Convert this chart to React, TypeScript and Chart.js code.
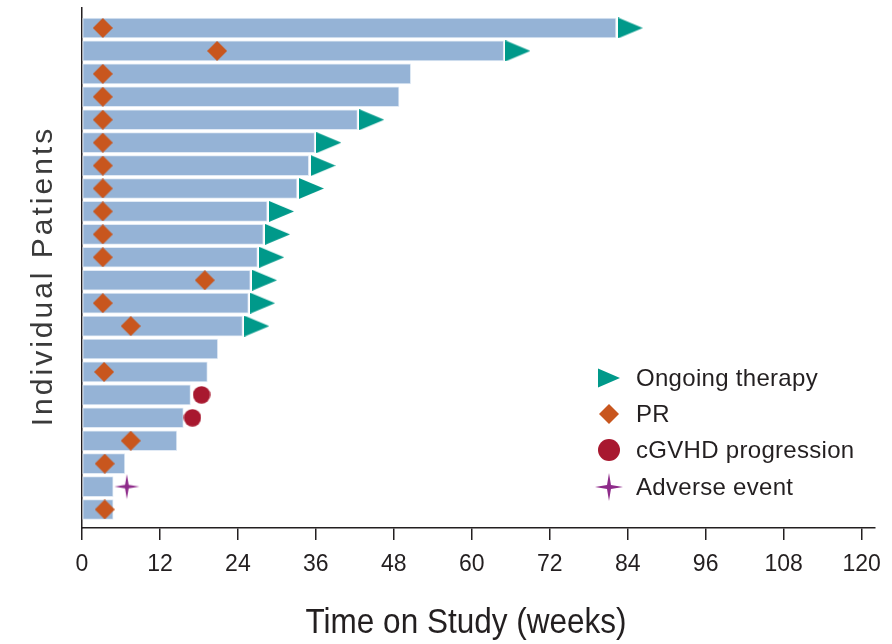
import React, { useEffect, useRef } from 'react';
import { Chart, registerables } from 'chart.js';

Chart.register(...registerables);

// ---- Data (weeks on study, patient rows numbered from top) ----
const patientRows = [1, 2, 3, 4, 5, 6, 7, 8, 9, 10, 11, 12, 13, 14, 15, 16, 17, 18, 19, 20, 21, 22];
const durations = [82.2, 64.9, 50.6, 48.8, 42.4, 35.8, 34.9, 33.1, 28.5, 27.9, 27.0, 25.9, 25.6, 24.7, 20.9, 19.3, 16.7, 15.6, 14.6, 6.6, 4.8, 4.8];

const ongoingRows = [1, 2, 5, 6, 7, 8, 9, 10, 11, 12, 13, 14];
const ongoingWeeks = [84.4, 67.1, 44.6, 38.0, 37.1, 35.3, 30.7, 30.1, 29.2, 28.1, 27.8, 26.9];

const prRows = [1, 2, 3, 4, 5, 6, 7, 8, 9, 10, 11, 12, 13, 14, 16, 19, 20, 22];
const prWeeks = [3.2, 20.8, 3.2, 3.2, 3.2, 3.2, 3.2, 3.2, 3.2, 3.2, 3.2, 18.9, 3.2, 7.5, 3.4, 7.5, 3.5, 3.5];

const progressionRows = [17, 18];
const progressionWeeks = [18.4, 17.0];

const adverseRows = [21];
const adverseWeeks = [6.9];

const xTickValues = [0, 12, 24, 36, 48, 60, 72, 84, 96, 108, 120];
const xMax = 122;

const legendLabels = ['Ongoing therapy', 'PR', 'cGVHD progression', 'Adverse event'];
const xTitle = 'Time on Study (weeks)';
const yTitle = 'Individual Patients';

// ---- Styles ----
const BAR = '#95b3d6';
const TEAL = '#00998a';
const ORANGE = '#c8561e';
const RED = '#a8182f';
const PURPLE = '#8e2b8a';
const INK = '#231f20';

type Kind = 'tri' | 'dia' | 'circ' | 'star';

function drawMarker(ctx: CanvasRenderingContext2D, kind: Kind, x: number, y: number, a: number, b: number) {
  ctx.save();
  ctx.translate(x, y);
  ctx.beginPath();
  if (kind === 'tri') {
    ctx.fillStyle = TEAL;
    ctx.moveTo(-a / 2, -b / 2);
    ctx.lineTo(a / 2, 0);
    ctx.lineTo(-a / 2, b / 2);
    ctx.closePath();
  } else if (kind === 'dia') {
    ctx.fillStyle = ORANGE;
    ctx.moveTo(0, -a);
    ctx.lineTo(a, 0);
    ctx.lineTo(0, a);
    ctx.lineTo(-a, 0);
    ctx.closePath();
  } else if (kind === 'circ') {
    ctx.fillStyle = RED;
    ctx.arc(0, 0, a, 0, Math.PI * 2);
  } else {
    ctx.fillStyle = PURPLE;
    const r = a;
    const ri = b;
    for (let i = 0; i < 8; i++) {
      const ang = (i * Math.PI) / 4 - Math.PI / 2;
      const rr = i % 2 === 0 ? r : ri;
      const px = Math.cos(ang) * rr;
      const py = Math.sin(ang) * rr;
      if (i === 0) ctx.moveTo(px, py);
      else ctx.lineTo(px, py);
    }
    ctx.closePath();
  }
  ctx.fill();
  ctx.restore();
}

function makeImage(kind: Kind, w: number, h: number, a: number, b: number) {
  const c = document.createElement('canvas');
  c.width = w;
  c.height = h;
  const ctx = c.getContext('2d')!;
  drawMarker(ctx, kind, w / 2, h / 2, a, b);
  return c;
}

const overlayPlugin = {
  id: 'overlay',
  afterDraw(chart: any) {
    const ctx: CanvasRenderingContext2D = chart.ctx;
    // Y title
    ctx.save();
    ctx.translate(52, 276);
    ctx.rotate(-Math.PI / 2);
    ctx.font = '30px "Liberation Sans", Arial, sans-serif';
    (ctx as any).letterSpacing = '3px';
    ctx.fillStyle = '#3a3a3a';
    ctx.textAlign = 'center';
    ctx.textBaseline = 'alphabetic';
    ctx.fillText(yTitle, 0, 0);
    ctx.restore();

    // X title
    ctx.save();
    ctx.translate(466, 633);
    ctx.scale(0.9, 1);
    ctx.font = '35px "Liberation Sans", Arial, sans-serif';
    ctx.fillStyle = INK;
    ctx.textAlign = 'center';
    ctx.textBaseline = 'alphabetic';
    ctx.fillText(xTitle, 0, 0);
    ctx.restore();

    // Legend
    const kinds: Kind[] = ['tri', 'dia', 'circ', 'star'];
    const sizes: [number, number][] = [[22, 19], [10, 0], [11, 0], [14, 2.8]];
    const rowsY = [378, 414, 450, 487];
    ctx.save();
    ctx.font = '24px "Liberation Sans", Arial, sans-serif';
    (ctx as any).letterSpacing = '0.3px';
    ctx.fillStyle = INK;
    ctx.textAlign = 'left';
    ctx.textBaseline = 'alphabetic';
    kinds.forEach((k, i) => {
      drawMarker(ctx, k, 609, rowsY[i], sizes[i][0], sizes[i][1]);
      ctx.fillStyle = INK;
      ctx.fillText(legendLabels[i], 636, rowsY[i] + 8);
    });
    ctx.restore();
  },
};

export default function App() {
  const ref = useRef<HTMLCanvasElement>(null);

  useEffect(() => {
    const triImg = makeImage('tri', 25, 21, 25, 21);
    const diaImg = makeImage('dia', 20, 20, 10, 0);
    const circImg = makeImage('circ', 18, 18, 8.7, 0);
    const starImg = makeImage('star', 26, 26, 12.5, 2.6);

    const pts = (rows: number[], weeks: number[]) => weeks.map((w, i) => ({ x: w, y: rows[i] }));

    const chart = new Chart(ref.current!, {
      type: 'bar',
      data: {
        datasets: [
          {
            type: 'scatter',
            label: legendLabels[0],
            data: pts(ongoingRows, ongoingWeeks),
            pointStyle: triImg as any,
            order: 0,
          },
          {
            type: 'scatter',
            label: legendLabels[1],
            data: pts(prRows, prWeeks),
            pointStyle: diaImg as any,
            order: 0,
          },
          {
            type: 'scatter',
            label: legendLabels[2],
            data: pts(progressionRows, progressionWeeks),
            pointStyle: circImg as any,
            order: 0,
          },
          {
            type: 'scatter',
            label: legendLabels[3],
            data: pts(adverseRows, adverseWeeks),
            pointStyle: starImg as any,
            order: 0,
          },
          {
            type: 'bar',
            label: 'Time on study',
            indexAxis: 'y',
            data: durations.map((d, i) => ({ x: d, y: patientRows[i] })),
            backgroundColor: BAR,
            borderColor: 'rgba(225,234,245,1)',
            borderWidth: 1,
            borderSkipped: false,
            barThickness: 20,
            order: 10,
          } as any,
        ],
      },
      options: {
        indexAxis: 'y',
        responsive: false,
        animation: false,
        layout: { padding: { top: 8, right: 15, left: 0, bottom: 0 } },
        plugins: {
          legend: { display: false },
          tooltip: { enabled: false },
        },
        scales: {
          x: {
            type: 'linear',
            min: 0,
            max: xMax,
            afterBuildTicks: (s: any) => {
              s.ticks = xTickValues.map((v) => ({ value: v }));
            },
            afterFit: (s: any) => {
              s.height = 116;
            },
            ticks: {
              color: INK,
              padding: 11,
              maxRotation: 0,
              autoSkip: false,
              font: { family: '"Liberation Sans", Arial, sans-serif', size: 23 },
            },
            grid: {
              drawOnChartArea: false,
              drawTicks: true,
              tickLength: 12,
              color: INK,
              lineWidth: 1.5,
            },
            border: { display: true, color: INK, width: 1.5 },
          },
          y: {
            type: 'linear',
            reverse: true,
            offset: false,
            min: 0.128,
            max: 22.807,
            afterFit: (s: any) => {
              s.width = 82;
            },
            ticks: { display: false },
            grid: { display: false },
            border: { display: true, color: INK, width: 1.5 },
          },
        },
      } as any,
      plugins: [overlayPlugin],
    } as any);

    return () => chart.destroy();
  }, []);

  return (
    <div style={{ position: 'absolute', left: 0, top: 0, width: 892, height: 644, background: '#fff' }}>
      <canvas ref={ref} width={892} height={644} style={{ display: 'block', width: 892, height: 644 }} />
    </div>
  );
}
